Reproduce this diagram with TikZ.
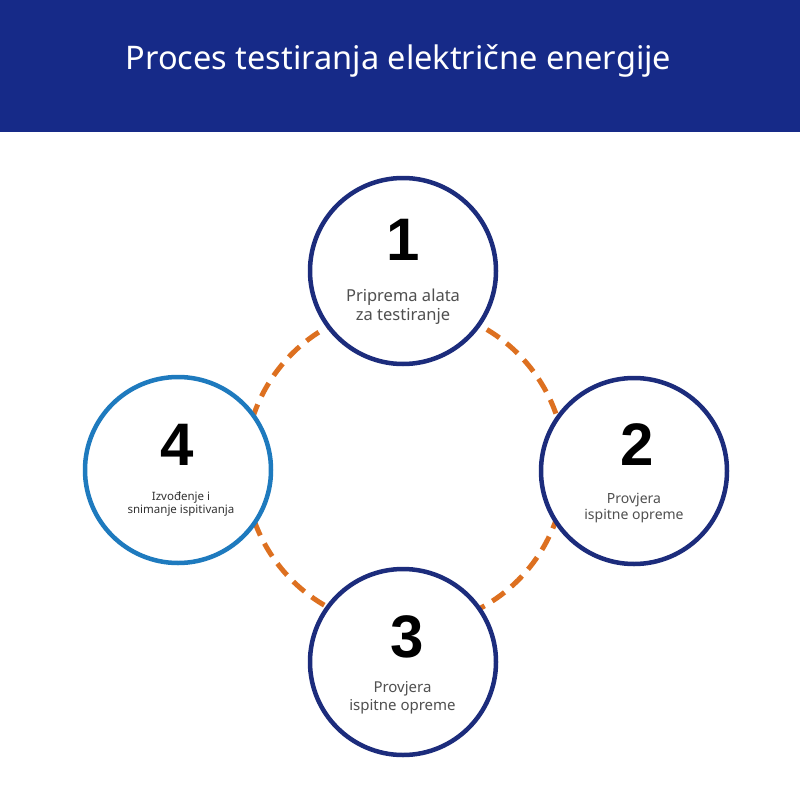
\documentclass[tikz,border=0pt]{standalone}
\usepackage{fontspec}
\setmainfont{Noto Sans}
\newfontfamily\numfont{Liberation Sans}
\definecolor{hdr}{RGB}{22,42,136}
\definecolor{navy}{RGB}{28,44,124}
\definecolor{sky}{RGB}{30,122,190}
\definecolor{orng}{RGB}{221,112,32}
\definecolor{lbl}{RGB}{80,80,80}
\definecolor{lbld}{RGB}{50,50,50}
\tikzset{
  stepcirc/.style={circle, draw=navy, line width=4.5pt, fill=white, minimum size=186pt, inner sep=0pt},
  numtxt/.style={anchor=base, inner sep=0pt, font=\numfont\fontsize{60}{60}\selectfont\bfseries, text=black},
  labtxt/.style={anchor=base, inner sep=0pt, text=lbl},
}
\begin{document}
\begin{tikzpicture}[x=1pt, y=-1pt]
\useasboundingbox (0,0) rectangle (800,800);
\fill[white] (0,0) rectangle (800,800);
\fill[hdr] (0,0) rectangle (800,132);
\node[anchor=base, inner sep=0pt, text=white, font=\fontsize{32.5}{32.5}\selectfont] (title) at (398.5,70) {Proces testiranja električne energije};
% dashed ring
\draw[orng, line width=5pt, dash pattern=on 15pt off 9pt] (405,467) circle[radius=160];
% circles
\node[stepcirc] (c1) at (403,271) {};
\node[stepcirc] (c2) at (634,471) {};
\node[stepcirc] (c3) at (403,662) {};
\node[stepcirc, draw=sky] (c4) at (178,470) {};
% numbers
\node[numtxt] (n1) at (403,260) {1};
\node[numtxt] (n2) at (637,465) {2};
\node[numtxt] (n3) at (407,657) {3};
\node[numtxt] (n4) at (177.5,465) {4};
% labels
\node[labtxt, font=\fontsize{16.5}{16.5}\selectfont] (l1a) at (403,301.7) {Priprema alata};
\node[labtxt, font=\fontsize{16.5}{16.5}\selectfont] (l1b) at (403,320) {za testiranje};
\node[labtxt, font=\fontsize{14}{14}\selectfont] (l2a) at (634,503) {Provjera};
\node[labtxt, font=\fontsize{14}{14}\selectfont] (l2b) at (634,519) {ispitne opreme};
\node[labtxt, font=\fontsize{15}{15}\selectfont] (l3a) at (402.5,692.7) {Provjera};
\node[labtxt, font=\fontsize{15}{15}\selectfont] (l3b) at (402.5,710) {ispitne opreme};
\node[labtxt, text=lbld, font=\fontsize{11.5}{11.5}\selectfont] (l4a) at (181,500.7) {Izvođenje i};
\node[labtxt, text=lbld, font=\fontsize{11.5}{11.5}\selectfont] (l4b) at (181,513.5) {snimanje ispitivanja};
\end{tikzpicture}
\end{document}
